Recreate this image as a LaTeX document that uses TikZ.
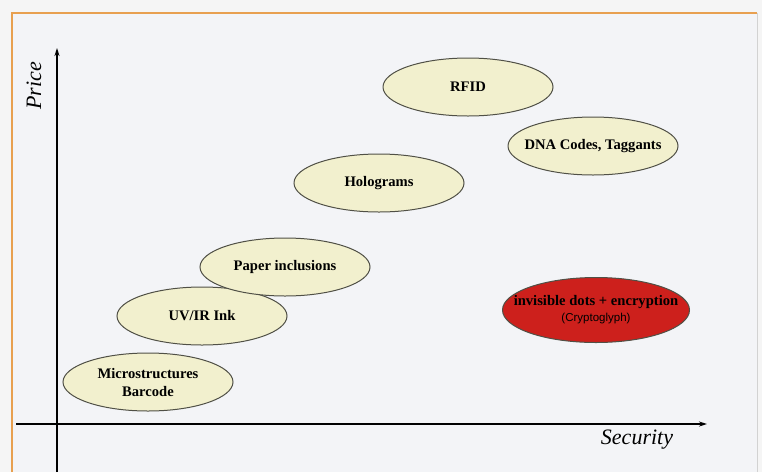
\documentclass[tikz,border=0pt]{standalone}
\usepackage{fontspec}
\setmainfont{Liberation Serif}
\newfontfamily\arialfont{Liberation Sans}
\usetikzlibrary{shapes.geometric,arrows.meta}
\definecolor{cream}{RGB}{242,240,206}
\definecolor{panel}{RGB}{243,244,247}
\definecolor{frame}{RGB}{232,160,80}
\definecolor{glyphred}{RGB}{205,32,28}
\definecolor{rim}{RGB}{80,80,70}

\begin{document}
\begin{tikzpicture}[x=1pt,y=-1pt,
  main/.style = {draw=rim, line width=1pt, ellipse, fill=cream, minimum width=170pt, minimum height=58pt, inner ysep=0pt, inner xsep=-25pt, align=center, font=\fontsize{14.6}{18}\selectfont\bfseries},
  axis/.style = {line width=1.6pt, -{Stealth[length=8pt,width=5pt]}},
  label/.style = {font=\fontsize{22}{24}\selectfont\itshape}]
\useasboundingbox (0,0) rectangle (762,472);
\fill[white!96!black] (0,0) rectangle (762,472);
\fill[panel] (12,13) rectangle (757,472);
\draw[gray!35, line width=1pt] (757,13) -- (757,472);
\draw[frame, line width=2pt] (12,472) -- (12,13) -- (757,13);
% axes
\coordinate (y0) at (57,472);
\coordinate (y1) at (57,48);
\coordinate (x0) at (16,424);
\coordinate (x1) at (707,424);
\draw[axis] (y0) -- (y1);
\draw[axis] (x0) -- (x1);
\node[label, rotate=90] (price) at (34,86) {Price};
\node[label] (security) at (637,440) {Security};
% methods
\node[main] (1) at (148,382) {Microstructures\\Barcode};
\node[main] (2) at (202,316) {UV/IR Ink};
\node[main] (3) at (285,267) {Paper inclusions};
\node[main] (4) at (379,183) {Holograms};
\node[main] (5) at (468,87) {RFID};
\node[main] (6) at (593,146) {DNA Codes, Taggants};
\node[main, fill=glyphred, minimum width=187pt, minimum height=65pt, inner xsep=-40pt] (7) at (596,310)
  {invisible dots + encryption\\[-2pt]{\arialfont\mdseries\fontsize{11.5}{13}\selectfont (Cryptoglyph)}};
\end{tikzpicture}
\end{document}
